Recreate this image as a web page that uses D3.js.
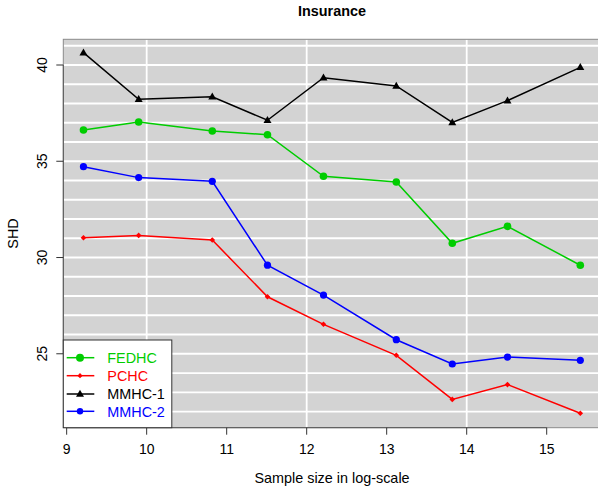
<!DOCTYPE html>
<html><head><meta charset="utf-8">
<script src="https://cdn.jsdelivr.net/npm/d3@7"></script>
<style>body{margin:0;background:#fff}svg{display:block}text{font-family:"Liberation Sans",Arial,sans-serif}</style>
</head><body>
<script>
const sampleSizesLog = [9.21, 9.90, 10.82, 11.51, 12.21, 13.12, 13.82, 14.51, 15.42];
const fedhc = [36.62, 37.04, 36.57, 36.38, 34.22, 33.92, 30.74, 31.62, 29.60];
const pchc  = [31.03, 31.15, 30.91, 27.96, 26.53, 24.92, 22.63, 23.40, 21.91];
const mmhc1 = [40.64, 38.22, 38.35, 37.13, 39.34, 38.91, 37.02, 38.15, 39.88];
const mmhc2 = [34.72, 34.15, 33.96, 29.60, 28.05, 25.73, 24.47, 24.83, 24.66];
const seriesNames = ["FEDHC", "PCHC", "MMHC-1", "MMHC-2"];
const xTicks = [9, 10, 11, 12, 13, 14, 15];
const yTicks = [25, 30, 35, 40];
const xGrid = [10, 12, 14, 16];
const yGrid = [22,23,24,25,26,27,28,29,30,31,32,33,34,35,36,37,38,39,40,41];

const W = 598, H = 491;
const L = 63.3, R = 600.7, T = 39.3, B = 427.7;
const svg = d3.select("body").append("svg").attr("width", W).attr("height", H);
const x = d3.scaleLinear().domain([8.958, 15.675]).range([L, R]);
const y = d3.scaleLinear().domain([21.16, 41.335]).range([B, T]);

const series = [
  {name: seriesNames[0], vals: fedhc, color: "#00cd00", shape: "circle", r: 3.8},
  {name: seriesNames[1], vals: pchc, color: "#ff0000", shape: "diamond", r: 2.8},
  {name: seriesNames[2], vals: mmhc1, color: "#000000", shape: "triangle", r: 4},
  {name: seriesNames[3], vals: mmhc2, color: "#0000ff", shape: "circle", r: 3.6}
];

svg.append("defs").append("clipPath").attr("id","clip").append("rect")
  .attr("x", L).attr("y", T).attr("width", R - L).attr("height", B - T);

svg.append("rect").attr("x", L).attr("y", T).attr("width", R - L).attr("height", B - T).attr("fill", "#d3d3d3");
const g = svg.append("g").attr("clip-path", "url(#clip)");
g.selectAll(".hg").data(yGrid).join("line")
  .attr("x1", L).attr("x2", R).attr("y1", d => y(d)).attr("y2", d => y(d))
  .attr("stroke", "#fff").attr("stroke-width", 1.8);
g.selectAll(".vg").data(xGrid).join("line")
  .attr("y1", T).attr("y2", B).attr("x1", d => x(d)).attr("x2", d => x(d))
  .attr("stroke", "#fff").attr("stroke-width", 1.8);

function marker(sel, s, cx, cy, r) {
  if (s.shape === "circle") {
    sel.append("circle").attr("cx", cx).attr("cy", cy).attr("r", r).attr("fill", s.color);
  } else if (s.shape === "diamond") {
    sel.append("path").attr("d", `M${cx},${cy - r}L${cx + r},${cy}L${cx},${cy + r}L${cx - r},${cy}Z`).attr("fill", s.color);
  } else {
    const h = r * 1.75;
    sel.append("path").attr("d", `M${cx},${cy - h * 0.6}L${cx + r},${cy + h * 0.4}L${cx - r},${cy + h * 0.4}Z`).attr("fill", s.color);
  }
}

const line = d3.line().x((d, i) => x(sampleSizesLog[i])).y(d => y(d));
series.forEach(s => {
  g.append("path").attr("d", line(s.vals)).attr("fill", "none").attr("stroke", s.color).attr("stroke-width", 1.5);
  s.vals.forEach((v, i) => marker(g, s, x(sampleSizesLog[i]), y(v), s.r));
});

// box
svg.append("rect").attr("x", L).attr("y", T).attr("width", R - L).attr("height", B - T)
  .attr("fill", "none").attr("stroke", "#8a8a8a").attr("stroke-width", 1);

// x axis
const xa = svg.append("g");
xa.append("line").attr("x1", x(9)).attr("x2", x(15)).attr("y1", B).attr("y2", B).attr("stroke", "#555");
xTicks.forEach(t => {
  xa.append("line").attr("x1", x(t)).attr("x2", x(t)).attr("y1", B).attr("y2", B + 7).attr("stroke", "#333");
  xa.append("text").attr("x", x(t)).attr("y", 454).attr("text-anchor", "middle").attr("font-size", 14).text(t);
});
// y axis
const ya = svg.append("g");
ya.append("line").attr("x1", L).attr("x2", L).attr("y1", y(25)).attr("y2", y(40)).attr("stroke", "#555");
yTicks.forEach(t => {
  ya.append("line").attr("x1", L - 7).attr("x2", L).attr("y1", y(t)).attr("y2", y(t)).attr("stroke", "#333");
  ya.append("text").attr("transform", `translate(46.5,${y(t)}) rotate(-90)`).attr("text-anchor", "middle").attr("font-size", 14).text(t);
});

svg.append("text").attr("x", (L + R) / 2).attr("y", 15.5).attr("text-anchor", "middle")
  .attr("font-size", 14.4).attr("font-weight", "bold").text("Insurance");
svg.append("text").attr("x", (L + R) / 2).attr("y", 483).attr("text-anchor", "middle")
  .attr("font-size", 14.4).text("Sample size in log-scale");
svg.append("text").attr("transform", `translate(18,${(T + B) / 2}) rotate(-90)`).attr("text-anchor", "middle")
  .attr("font-size", 14.4).text("SHD");

// legend
const lg = svg.append("g");
lg.append("rect").attr("x", L).attr("y", 340).attr("width", 108.5).attr("height", B - 340)
  .attr("fill", "#fff").attr("stroke", "#333").attr("stroke-width", 1);
const rowY = [357.7, 375.7, 394, 411.3];
const legR = [4, 2.6, 4, 3.2];
series.forEach((s, i) => {
  lg.append("line").attr("x1", 66.7).attr("x2", 94.3).attr("y1", rowY[i]).attr("y2", rowY[i]).attr("stroke", s.color).attr("stroke-width", 1.5);
  marker(lg, s, 80, rowY[i], legR[i]);
  lg.append("text").attr("x", 107.3).attr("y", rowY[i] + 5.2).attr("font-size", 14.4).attr("fill", s.color).text(s.name);
});
</script>
</body></html>
